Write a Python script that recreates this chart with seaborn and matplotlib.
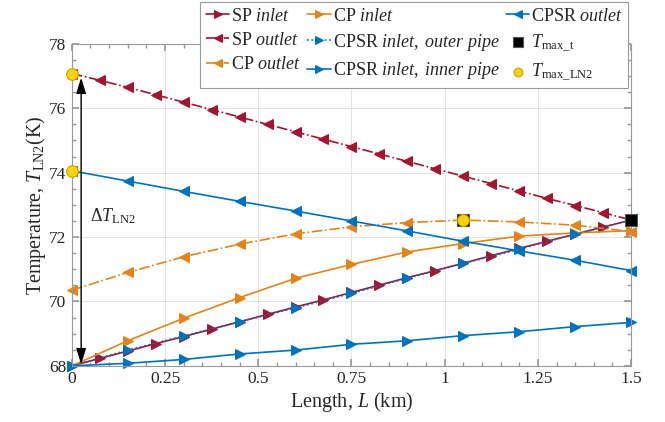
import numpy as np
import pandas as pd
import matplotlib
matplotlib.use("Agg")
import matplotlib.pyplot as plt
import seaborn as sns
from matplotlib.ticker import MultipleLocator

# data
length_fine = np.round(np.arange(0, 1.5001, 0.075), 3)
length = np.round(np.arange(0, 1.5001, 0.15), 2)

sp_inlet = [68.00, 68.23, 68.46, 68.69, 68.91, 69.14, 69.37, 69.60, 69.83, 70.05, 70.28,
            70.51, 70.74, 70.96, 71.19, 71.42, 71.65, 71.87, 72.09, 72.31, 72.53]
sp_outlet = [77.08, 76.87, 76.65, 76.42, 76.19, 75.96, 75.73, 75.50, 75.27, 75.04, 74.81,
             74.58, 74.35, 74.12, 73.89, 73.66, 73.43, 73.20, 72.98, 72.76, 72.53]
cp_inlet = [68.00, 68.78, 69.48, 70.12, 70.72, 71.15, 71.54, 71.80, 72.03, 72.13, 72.20]
cp_outlet = [70.35, 70.90, 71.39, 71.78, 72.10, 72.32, 72.45, 72.53, 72.47, 72.37, 72.17]
cpsr_outer = [68.00, 68.49, 68.93, 69.37, 69.80, 70.25, 70.72, 71.18, 71.62, 72.09, 72.53]
cpsr_inner = [68.00, 68.08, 68.20, 68.37, 68.49, 68.67, 68.78, 68.94, 69.06, 69.22, 69.35]
cpsr_outlet = [74.06, 73.74, 73.42, 73.11, 72.81, 72.50, 72.19, 71.87, 71.57, 71.28, 70.96]

tmax_t_x = [1.05, 1.5]
tmax_t_y = [72.53, 72.53]
tmax_ln2_x = [0, 0, 1.05]
tmax_ln2_y = [77.08, 74.06, 72.53]

x_ticks = [0, 0.25, 0.5, 0.75, 1, 1.25, 1.5]
x_tick_labels = ["0", "0.25", "0.5", "0.75", "1", "1.25", "1.5"]
y_ticks = [68, 70, 72, 74, 76, 78]

# colours
RED = "#A2142F"
ORANGE = "#E3841B"
BLUE = "#0072BD"
TXT = "#262626"
GRAY = "#999999"

sns.set_theme(style="ticks")
plt.rcParams["font.family"] = ["Liberation Serif", "DejaVu Serif"]
plt.rcParams["mathtext.fontset"] = "custom"
plt.rcParams["mathtext.rm"] = "Liberation Serif"
plt.rcParams["mathtext.it"] = "Liberation Serif:italic"
plt.rcParams["mathtext.bf"] = "Liberation Serif:bold"

fig = plt.figure(figsize=(6.65, 4.22), dpi=100)
ax = fig.add_axes([0.108, 0.133, 0.841, 0.763])

lw = 1.2
ms = 7.3

fine = pd.DataFrame({"L": length_fine, "sp_in": sp_inlet, "sp_out": sp_outlet})
coarse = pd.DataFrame({"L": length, "cp_in": cp_inlet, "cp_out": cp_outlet,
                       "outer": cpsr_outer, "inner": cpsr_inner, "outlet": cpsr_outlet})

# draw order: red, orange, blue
series = [
    (fine, "sp_in", RED, ">", "-"),
    (fine, "sp_out", RED, "<", "-."),
    (coarse, "cp_in", ORANGE, ">", "-"),
    (coarse, "cp_out", ORANGE, "<", "-."),
    (coarse, "outer", BLUE, ">", ":"),
    (coarse, "inner", BLUE, ">", "-"),
    (coarse, "outlet", BLUE, "<", "-"),
]
for df, col, c, mk, ls in series:
    sns.lineplot(data=df, x="L", y=col, color=c, lw=lw, marker=mk, ms=ms,
                 markeredgecolor=c, linestyle=ls, ax=ax, label="_" + col,
                 clip_on=False)

sns.scatterplot(x=tmax_t_x, y=tmax_t_y, marker="s", s=80, color="black",
                edgecolor="#555555", linewidth=0.8, ax=ax, zorder=5, clip_on=False)
sns.scatterplot(x=tmax_ln2_x, y=tmax_ln2_y, marker="o", s=70, color="#FFD20A",
                edgecolor="#C9A000", linewidth=0.8, ax=ax, zorder=6, clip_on=False)

lines = ax.get_lines()
sq = ax.collections[-2]
circ = ax.collections[-1]

# double arrow for delta T
ax.annotate("", xy=(0.025, 68.05), xytext=(0.025, 76.95),
            arrowprops=dict(arrowstyle="<|-|>,head_length=0.8,head_width=0.25",
                            color="black", lw=1.0, shrinkA=0, shrinkB=0))
ax.text(0.05, 72.65, r"$\Delta T_{\rm LN2}$", fontsize=13, color=TXT,
        va="center", ha="left")

ax.set_xlim(0, 1.5)
ax.set_ylim(68, 78)
ax.set_xticks(x_ticks)
ax.set_xticklabels(x_tick_labels)
ax.set_yticks(y_ticks)
ax.xaxis.set_minor_locator(MultipleLocator(0.05))
ax.yaxis.set_minor_locator(MultipleLocator(0.5))
ax.tick_params(which="both", direction="in", top=True, right=True,
               labelsize=12.5, colors=TXT, pad=4)
ax.tick_params(which="major", length=5, color=GRAY)
ax.tick_params(which="minor", length=3, color=GRAY)
ax.grid(True, which="major", color="#E3E3E3", lw=0.7)
for sp in ax.spines.values():
    sp.set_color(GRAY)
    sp.set_linewidth(0.8)

ax.set_xlabel(r"Length, $L$ (km)", fontsize=14.5, color=TXT, labelpad=2)
ax.set_ylabel(r"Temperature, $T_{\rm LN2}$(K)", fontsize=14.5, color=TXT, labelpad=1)

# legend, column by column
handles = [lines[0], lines[1], lines[3], lines[2], lines[4], lines[5], lines[6], sq, circ]
labels = [r"SP $\mathit{inlet}$", r"SP $\mathit{outlet}$", r"CP $\mathit{outlet}$",
          r"CP $\mathit{inlet}$", r"CPSR $\mathit{inlet,\ outer\ pipe}$",
          r"CPSR $\mathit{inlet,\ inner\ pipe}$", r"CPSR $\mathit{outlet}$",
          r"$T_{\rm max\_t}$", r"$T_{\rm max\_LN2}$"]
leg = fig.legend(handles, labels, ncol=3, loc="upper right",
                 bbox_to_anchor=(0.945, 0.995), borderaxespad=0, fontsize=13,
                 frameon=True, fancybox=False, edgecolor=GRAY, framealpha=1,
                 handlelength=1.3, handletextpad=0.1, columnspacing=0.35,
                 labelspacing=0.4, borderpad=0.3, markerscale=0.75)
leg.get_frame().set_linewidth(0.8)
for t in leg.get_texts():
    t.set_color(TXT)

fig.savefig("out.png", dpi=100)
